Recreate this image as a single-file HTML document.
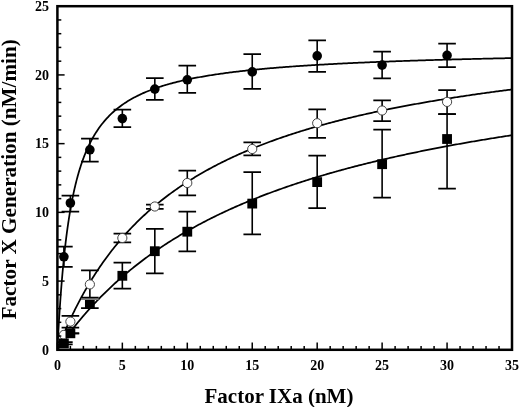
<!DOCTYPE html>
<html><head><meta charset="utf-8"><style>
html,body{margin:0;padding:0;background:#fff;}
svg{display:block;}
.t{font-family:"Liberation Serif",serif;font-weight:bold;font-size:14px;fill:#000;}
.a{font-family:"Liberation Serif",serif;font-weight:bold;font-size:21px;fill:#000;}
</style></head><body>
<svg style="will-change:transform" width="520" height="407" viewBox="0 0 520 407">
<rect width="520" height="407" fill="#fff"/>
<defs><clipPath id="c"><rect x="57.4" y="6.2" width="454.6" height="343.6"/></clipPath></defs><g clip-path="url(#c)"><path d="M57.40,349.80 L57.66,344.64 L57.92,339.66 L58.18,334.84 L58.44,330.17 L58.70,325.66 L58.96,321.29 L59.22,317.05 L59.48,312.95 L59.74,308.97 L60.00,305.10 L60.26,301.35 L60.52,297.71 L60.78,294.17 L61.04,290.73 L61.30,287.38 L61.56,284.13 L61.82,280.96 L62.08,277.88 L62.34,274.88 L62.60,271.95 L62.86,269.10 L63.12,266.33 L63.37,263.62 L63.63,260.97 L63.89,258.40 L64.15,255.88 L64.41,253.42 L64.67,251.02 L64.93,248.68 L65.19,246.39 L65.45,244.15 L65.71,241.96 L65.97,239.82 L66.23,237.73 L66.49,235.68 L66.75,233.68 L67.01,231.72 L67.27,229.80 L67.53,227.92 L67.79,226.08 L68.05,224.27 L68.31,222.50 L68.57,220.77 L68.83,219.07 L69.09,217.41 L69.35,215.77 L69.61,214.17 L69.87,212.60 L70.13,211.06 L70.39,209.54 L70.65,208.06 L70.91,206.60 L71.17,205.17 L71.43,203.76 L71.69,202.38 L71.95,201.03 L72.21,199.69 L72.47,198.38 L72.73,197.10 L72.99,195.83 L73.25,194.59 L73.51,193.36 L73.77,192.16 L74.03,190.98 L74.29,189.81 L74.55,188.67 L74.81,187.54 L75.07,186.43 L75.32,185.34 L75.58,184.27 L75.84,183.21 L76.10,182.17 L76.36,181.15 L76.62,180.14 L76.88,179.14 L77.14,178.16 L77.40,177.20 L77.66,176.25 L77.92,175.31 L78.18,174.39 L78.44,173.48 L78.70,172.58 L78.96,171.70 L79.22,170.83 L79.48,169.97 L79.74,169.12 L80.00,168.29 L80.26,167.46 L80.52,166.65 L80.78,165.85 L81.04,165.06 L81.30,164.28 L81.56,163.51 L81.82,162.75 L82.08,162.00 L82.34,161.26 L82.60,160.53 L82.86,159.81 L83.12,159.10 L83.38,158.40 L83.64,157.70 L83.90,157.02 L84.16,156.34 L84.42,155.67 L84.68,155.01 L84.94,154.36 L85.20,153.72 L85.46,153.08 L85.72,152.45 L85.98,151.83 L86.24,151.22 L86.50,150.61 L86.76,150.02 L87.01,149.42 L87.27,148.84 L87.53,148.26 L87.79,147.69 L88.05,147.12 L88.31,146.56 L88.57,146.01 L88.83,145.46 L89.09,144.92 L89.35,144.39 L89.61,143.86 L89.87,143.34 L90.13,142.82 L90.39,142.31 L90.65,141.80 L90.91,141.30 L91.17,140.81 L91.43,140.32 L91.69,139.83 L91.95,139.36 L92.21,138.88 L92.47,138.41 L92.73,137.95 L92.99,137.49 L93.25,137.03 L93.51,136.58 L93.77,136.13 L94.03,135.69 L94.29,135.26 L94.55,134.82 L94.81,134.39 L95.07,133.97 L95.33,133.55 L95.59,133.13 L95.85,132.72 L96.11,132.31 L96.37,131.91 L97.67,129.95 L98.96,128.08 L100.26,126.29 L101.56,124.58 L102.86,122.94 L104.16,121.37 L105.46,119.87 L106.76,118.43 L108.06,117.05 L109.36,115.71 L110.65,114.43 L111.95,113.20 L113.25,112.01 L114.55,110.87 L115.85,109.77 L117.15,108.70 L118.45,107.67 L119.75,106.68 L121.05,105.72 L122.34,104.79 L123.64,103.89 L124.94,103.01 L126.24,102.17 L127.54,101.35 L128.84,100.56 L130.14,99.78 L131.44,99.04 L132.74,98.31 L134.04,97.60 L135.33,96.92 L136.63,96.25 L137.93,95.60 L139.23,94.97 L140.53,94.35 L141.83,93.75 L143.13,93.17 L144.43,92.60 L145.73,92.05 L147.02,91.51 L148.32,90.98 L149.62,90.46 L150.92,89.96 L152.22,89.47 L153.52,88.99 L154.82,88.52 L156.12,88.07 L157.42,87.62 L158.71,87.18 L160.01,86.76 L161.31,86.34 L162.61,85.93 L163.91,85.53 L165.21,85.14 L166.51,84.75 L167.81,84.38 L169.11,84.01 L170.40,83.65 L171.70,83.30 L173.00,82.95 L174.30,82.61 L175.60,82.28 L176.90,81.95 L178.20,81.63 L179.50,81.32 L180.80,81.01 L182.09,80.71 L183.39,80.41 L184.69,80.12 L185.99,79.84 L187.29,79.56 L188.59,79.28 L189.89,79.01 L191.19,78.74 L192.49,78.48 L193.78,78.22 L195.08,77.97 L196.38,77.72 L197.68,77.48 L198.98,77.24 L200.28,77.00 L201.58,76.77 L202.88,76.54 L204.18,76.32 L205.47,76.09 L206.77,75.88 L208.07,75.66 L209.37,75.45 L210.67,75.24 L211.97,75.04 L213.27,74.84 L214.57,74.64 L215.87,74.44 L217.16,74.25 L218.46,74.06 L219.76,73.87 L221.06,73.69 L222.36,73.51 L223.66,73.33 L224.96,73.15 L226.26,72.98 L227.56,72.81 L228.85,72.64 L230.15,72.47 L231.45,72.30 L232.75,72.14 L234.05,71.98 L235.35,71.82 L236.65,71.67 L237.95,71.52 L239.25,71.36 L240.54,71.21 L241.84,71.07 L243.14,70.92 L244.44,70.78 L245.74,70.63 L247.04,70.49 L248.34,70.35 L249.64,70.22 L250.94,70.08 L252.23,69.95 L253.53,69.82 L254.83,69.69 L256.13,69.56 L257.43,69.43 L258.73,69.31 L260.03,69.18 L261.33,69.06 L262.63,68.94 L263.93,68.82 L265.22,68.70 L266.52,68.58 L267.82,68.47 L269.12,68.35 L270.42,68.24 L271.72,68.13 L273.02,68.02 L274.32,67.91 L275.62,67.80 L276.91,67.69 L278.21,67.59 L279.51,67.48 L280.81,67.38 L282.11,67.28 L283.41,67.18 L284.71,67.08 L286.01,66.98 L287.31,66.88 L288.60,66.78 L289.90,66.69 L291.20,66.59 L292.50,66.50 L293.80,66.41 L295.10,66.32 L296.40,66.22 L297.70,66.13 L299.00,66.05 L300.29,65.96 L301.59,65.87 L302.89,65.78 L304.19,65.70 L305.49,65.61 L306.79,65.53 L308.09,65.45 L309.39,65.36 L310.69,65.28 L311.98,65.20 L313.28,65.12 L314.58,65.04 L315.88,64.96 L317.18,64.89 L318.48,64.81 L319.78,64.73 L321.08,64.66 L322.38,64.58 L323.67,64.51 L324.97,64.43 L326.27,64.36 L327.57,64.29 L328.87,64.22 L330.17,64.15 L331.47,64.08 L332.77,64.01 L334.07,63.94 L335.36,63.87 L336.66,63.80 L337.96,63.74 L339.26,63.67 L340.56,63.60 L341.86,63.54 L343.16,63.47 L344.46,63.41 L345.76,63.34 L347.05,63.28 L348.35,63.22 L349.65,63.16 L350.95,63.10 L352.25,63.03 L353.55,62.97 L354.85,62.91 L356.15,62.85 L357.45,62.79 L358.74,62.74 L360.04,62.68 L361.34,62.62 L362.64,62.56 L363.94,62.51 L365.24,62.45 L366.54,62.39 L367.84,62.34 L369.14,62.28 L370.43,62.23 L371.73,62.18 L373.03,62.12 L374.33,62.07 L375.63,62.02 L376.93,61.96 L378.23,61.91 L379.53,61.86 L380.83,61.81 L382.13,61.76 L383.42,61.71 L384.72,61.66 L386.02,61.61 L387.32,61.56 L388.62,61.51 L389.92,61.46 L391.22,61.41 L392.52,61.37 L393.82,61.32 L395.11,61.27 L396.41,61.22 L397.71,61.18 L399.01,61.13 L400.31,61.09 L401.61,61.04 L402.91,61.00 L404.21,60.95 L405.51,60.91 L406.80,60.86 L408.10,60.82 L409.40,60.78 L410.70,60.73 L412.00,60.69 L413.30,60.65 L414.60,60.60 L415.90,60.56 L417.20,60.52 L418.49,60.48 L419.79,60.44 L421.09,60.40 L422.39,60.36 L423.69,60.32 L424.99,60.28 L426.29,60.24 L427.59,60.20 L428.89,60.16 L430.18,60.12 L431.48,60.08 L432.78,60.04 L434.08,60.00 L435.38,59.97 L436.68,59.93 L437.98,59.89 L439.28,59.85 L440.58,59.82 L441.87,59.78 L443.17,59.74 L444.47,59.71 L445.77,59.67 L447.07,59.64 L448.37,59.60 L449.67,59.56 L450.97,59.53 L452.27,59.49 L453.56,59.46 L454.86,59.43 L456.16,59.39 L457.46,59.36 L458.76,59.32 L460.06,59.29 L461.36,59.26 L462.66,59.22 L463.96,59.19 L465.25,59.16 L466.55,59.13 L467.85,59.09 L469.15,59.06 L470.45,59.03 L471.75,59.00 L473.05,58.97 L474.35,58.93 L475.65,58.90 L476.94,58.87 L478.24,58.84 L479.54,58.81 L480.84,58.78 L482.14,58.75 L483.44,58.72 L484.74,58.69 L486.04,58.66 L487.34,58.63 L488.63,58.60 L489.93,58.57 L491.23,58.54 L492.53,58.51 L493.83,58.48 L495.13,58.46 L496.43,58.43 L497.73,58.40 L499.03,58.37 L500.32,58.34 L501.62,58.32 L502.92,58.29 L504.22,58.26 L505.52,58.23 L506.82,58.21 L508.12,58.18 L509.42,58.15 L510.72,58.13 L512.01,58.10" fill="none" stroke="#000" stroke-width="1.75"/><path d="M57.40,349.80 L57.66,349.13 L57.92,348.46 L58.18,347.79 L58.44,347.12 L58.70,346.46 L58.96,345.80 L59.22,345.14 L59.48,344.49 L59.74,343.84 L60.00,343.19 L60.26,342.54 L60.52,341.90 L60.78,341.25 L61.04,340.61 L61.30,339.98 L61.56,339.34 L61.82,338.71 L62.08,338.08 L62.34,337.45 L62.60,336.83 L62.86,336.21 L63.12,335.59 L63.37,334.97 L63.63,334.36 L63.89,333.74 L64.15,333.13 L64.41,332.53 L64.67,331.92 L64.93,331.32 L65.19,330.72 L65.45,330.12 L65.71,329.52 L65.97,328.93 L66.23,328.33 L66.49,327.74 L66.75,327.16 L67.01,326.57 L67.27,325.99 L67.53,325.41 L67.79,324.83 L68.05,324.25 L68.31,323.68 L68.57,323.11 L68.83,322.54 L69.09,321.97 L69.35,321.40 L69.61,320.84 L69.87,320.28 L70.13,319.72 L70.39,319.16 L70.65,318.60 L70.91,318.05 L71.17,317.50 L71.43,316.95 L71.69,316.40 L71.95,315.86 L72.21,315.31 L72.47,314.77 L72.73,314.23 L72.99,313.69 L73.25,313.16 L73.51,312.62 L73.77,312.09 L74.03,311.56 L74.29,311.03 L74.55,310.51 L74.81,309.98 L75.07,309.46 L75.32,308.94 L75.58,308.42 L75.84,307.91 L76.10,307.39 L76.36,306.88 L76.62,306.37 L76.88,305.86 L77.14,305.35 L77.40,304.84 L77.66,304.34 L77.92,303.83 L78.18,303.33 L78.44,302.83 L78.70,302.34 L78.96,301.84 L79.22,301.35 L79.48,300.85 L79.74,300.36 L80.00,299.88 L80.26,299.39 L80.52,298.90 L80.78,298.42 L81.04,297.94 L81.30,297.46 L81.56,296.98 L81.82,296.50 L82.08,296.02 L82.34,295.55 L82.60,295.08 L82.86,294.61 L83.12,294.14 L83.38,293.67 L83.64,293.20 L83.90,292.74 L84.16,292.28 L84.42,291.81 L84.68,291.35 L84.94,290.90 L85.20,290.44 L85.46,289.98 L85.72,289.53 L85.98,289.08 L86.24,288.63 L86.50,288.18 L86.76,287.73 L87.01,287.28 L87.27,286.84 L87.53,286.39 L87.79,285.95 L88.05,285.51 L88.31,285.07 L88.57,284.63 L88.83,284.20 L89.09,283.76 L89.35,283.33 L89.61,282.90 L89.87,282.47 L90.13,282.04 L90.39,281.61 L90.65,281.18 L90.91,280.76 L91.17,280.33 L91.43,279.91 L91.69,279.49 L91.95,279.07 L92.21,278.65 L92.47,278.23 L92.73,277.82 L92.99,277.40 L93.25,276.99 L93.51,276.58 L93.77,276.17 L94.03,275.76 L94.29,275.35 L94.55,274.94 L94.81,274.54 L95.07,274.13 L95.33,273.73 L95.59,273.33 L95.85,272.93 L96.11,272.53 L96.37,272.13 L97.67,270.16 L98.96,268.22 L100.26,266.31 L101.56,264.42 L102.86,262.57 L104.16,260.74 L105.46,258.94 L106.76,257.16 L108.06,255.41 L109.36,253.69 L110.65,251.99 L111.95,250.32 L113.25,248.67 L114.55,247.04 L115.85,245.43 L117.15,243.85 L118.45,242.29 L119.75,240.75 L121.05,239.23 L122.34,237.73 L123.64,236.25 L124.94,234.79 L126.24,233.35 L127.54,231.92 L128.84,230.52 L130.14,229.14 L131.44,227.77 L132.74,226.42 L134.04,225.09 L135.33,223.77 L136.63,222.47 L137.93,221.19 L139.23,219.92 L140.53,218.67 L141.83,217.43 L143.13,216.21 L144.43,215.00 L145.73,213.81 L147.02,212.63 L148.32,211.47 L149.62,210.31 L150.92,209.18 L152.22,208.05 L153.52,206.94 L154.82,205.84 L156.12,204.76 L157.42,203.68 L158.71,202.62 L160.01,201.57 L161.31,200.54 L162.61,199.51 L163.91,198.49 L165.21,197.49 L166.51,196.50 L167.81,195.52 L169.11,194.54 L170.40,193.58 L171.70,192.63 L173.00,191.69 L174.30,190.76 L175.60,189.84 L176.90,188.93 L178.20,188.03 L179.50,187.14 L180.80,186.25 L182.09,185.38 L183.39,184.51 L184.69,183.66 L185.99,182.81 L187.29,181.97 L188.59,181.14 L189.89,180.32 L191.19,179.50 L192.49,178.70 L193.78,177.90 L195.08,177.11 L196.38,176.33 L197.68,175.55 L198.98,174.78 L200.28,174.02 L201.58,173.27 L202.88,172.52 L204.18,171.78 L205.47,171.05 L206.77,170.33 L208.07,169.61 L209.37,168.89 L210.67,168.19 L211.97,167.49 L213.27,166.80 L214.57,166.11 L215.87,165.43 L217.16,164.76 L218.46,164.09 L219.76,163.43 L221.06,162.77 L222.36,162.12 L223.66,161.48 L224.96,160.84 L226.26,160.20 L227.56,159.58 L228.85,158.95 L230.15,158.34 L231.45,157.73 L232.75,157.12 L234.05,156.52 L235.35,155.92 L236.65,155.33 L237.95,154.74 L239.25,154.16 L240.54,153.59 L241.84,153.02 L243.14,152.45 L244.44,151.89 L245.74,151.33 L247.04,150.78 L248.34,150.23 L249.64,149.68 L250.94,149.14 L252.23,148.61 L253.53,148.08 L254.83,147.55 L256.13,147.03 L257.43,146.51 L258.73,145.99 L260.03,145.48 L261.33,144.98 L262.63,144.47 L263.93,143.98 L265.22,143.48 L266.52,142.99 L267.82,142.50 L269.12,142.02 L270.42,141.54 L271.72,141.06 L273.02,140.59 L274.32,140.12 L275.62,139.66 L276.91,139.19 L278.21,138.74 L279.51,138.28 L280.81,137.83 L282.11,137.38 L283.41,136.93 L284.71,136.49 L286.01,136.05 L287.31,135.62 L288.60,135.19 L289.90,134.76 L291.20,134.33 L292.50,133.91 L293.80,133.49 L295.10,133.07 L296.40,132.65 L297.70,132.24 L299.00,131.83 L300.29,131.43 L301.59,131.03 L302.89,130.63 L304.19,130.23 L305.49,129.83 L306.79,129.44 L308.09,129.05 L309.39,128.67 L310.69,128.28 L311.98,127.90 L313.28,127.52 L314.58,127.15 L315.88,126.77 L317.18,126.40 L318.48,126.03 L319.78,125.67 L321.08,125.30 L322.38,124.94 L323.67,124.58 L324.97,124.23 L326.27,123.87 L327.57,123.52 L328.87,123.17 L330.17,122.82 L331.47,122.48 L332.77,122.14 L334.07,121.79 L335.36,121.46 L336.66,121.12 L337.96,120.79 L339.26,120.45 L340.56,120.12 L341.86,119.80 L343.16,119.47 L344.46,119.15 L345.76,118.82 L347.05,118.50 L348.35,118.19 L349.65,117.87 L350.95,117.56 L352.25,117.24 L353.55,116.93 L354.85,116.63 L356.15,116.32 L357.45,116.01 L358.74,115.71 L360.04,115.41 L361.34,115.11 L362.64,114.81 L363.94,114.52 L365.24,114.23 L366.54,113.93 L367.84,113.64 L369.14,113.35 L370.43,113.07 L371.73,112.78 L373.03,112.50 L374.33,112.22 L375.63,111.94 L376.93,111.66 L378.23,111.38 L379.53,111.11 L380.83,110.83 L382.13,110.56 L383.42,110.29 L384.72,110.02 L386.02,109.75 L387.32,109.49 L388.62,109.22 L389.92,108.96 L391.22,108.70 L392.52,108.44 L393.82,108.18 L395.11,107.92 L396.41,107.67 L397.71,107.41 L399.01,107.16 L400.31,106.91 L401.61,106.66 L402.91,106.41 L404.21,106.16 L405.51,105.91 L406.80,105.67 L408.10,105.42 L409.40,105.18 L410.70,104.94 L412.00,104.70 L413.30,104.46 L414.60,104.23 L415.90,103.99 L417.20,103.76 L418.49,103.52 L419.79,103.29 L421.09,103.06 L422.39,102.83 L423.69,102.60 L424.99,102.38 L426.29,102.15 L427.59,101.92 L428.89,101.70 L430.18,101.48 L431.48,101.26 L432.78,101.04 L434.08,100.82 L435.38,100.60 L436.68,100.38 L437.98,100.17 L439.28,99.95 L440.58,99.74 L441.87,99.53 L443.17,99.32 L444.47,99.11 L445.77,98.90 L447.07,98.69 L448.37,98.48 L449.67,98.27 L450.97,98.07 L452.27,97.87 L453.56,97.66 L454.86,97.46 L456.16,97.26 L457.46,97.06 L458.76,96.86 L460.06,96.66 L461.36,96.46 L462.66,96.27 L463.96,96.07 L465.25,95.88 L466.55,95.69 L467.85,95.49 L469.15,95.30 L470.45,95.11 L471.75,94.92 L473.05,94.73 L474.35,94.54 L475.65,94.36 L476.94,94.17 L478.24,93.99 L479.54,93.80 L480.84,93.62 L482.14,93.44 L483.44,93.25 L484.74,93.07 L486.04,92.89 L487.34,92.71 L488.63,92.54 L489.93,92.36 L491.23,92.18 L492.53,92.00 L493.83,91.83 L495.13,91.66 L496.43,91.48 L497.73,91.31 L499.03,91.14 L500.32,90.97 L501.62,90.80 L502.92,90.63 L504.22,90.46 L505.52,90.29 L506.82,90.12 L508.12,89.96 L509.42,89.79 L510.72,89.62 L512.01,89.46" fill="none" stroke="#000" stroke-width="1.75"/><path d="M57.40,349.80 L57.66,349.42 L57.92,349.04 L58.18,348.66 L58.44,348.29 L58.70,347.91 L58.96,347.54 L59.22,347.16 L59.48,346.79 L59.74,346.42 L60.00,346.05 L60.26,345.68 L60.52,345.31 L60.78,344.94 L61.04,344.57 L61.30,344.20 L61.56,343.84 L61.82,343.47 L62.08,343.11 L62.34,342.74 L62.60,342.38 L62.86,342.02 L63.12,341.66 L63.37,341.30 L63.63,340.94 L63.89,340.58 L64.15,340.22 L64.41,339.87 L64.67,339.51 L64.93,339.16 L65.19,338.80 L65.45,338.45 L65.71,338.10 L65.97,337.74 L66.23,337.39 L66.49,337.04 L66.75,336.69 L67.01,336.34 L67.27,336.00 L67.53,335.65 L67.79,335.30 L68.05,334.96 L68.31,334.61 L68.57,334.27 L68.83,333.93 L69.09,333.58 L69.35,333.24 L69.61,332.90 L69.87,332.56 L70.13,332.22 L70.39,331.88 L70.65,331.55 L70.91,331.21 L71.17,330.87 L71.43,330.54 L71.69,330.20 L71.95,329.87 L72.21,329.54 L72.47,329.20 L72.73,328.87 L72.99,328.54 L73.25,328.21 L73.51,327.88 L73.77,327.55 L74.03,327.22 L74.29,326.90 L74.55,326.57 L74.81,326.25 L75.07,325.92 L75.32,325.60 L75.58,325.27 L75.84,324.95 L76.10,324.63 L76.36,324.31 L76.62,323.98 L76.88,323.66 L77.14,323.35 L77.40,323.03 L77.66,322.71 L77.92,322.39 L78.18,322.07 L78.44,321.76 L78.70,321.44 L78.96,321.13 L79.22,320.82 L79.48,320.50 L79.74,320.19 L80.00,319.88 L80.26,319.57 L80.52,319.26 L80.78,318.95 L81.04,318.64 L81.30,318.33 L81.56,318.02 L81.82,317.71 L82.08,317.41 L82.34,317.10 L82.60,316.80 L82.86,316.49 L83.12,316.19 L83.38,315.88 L83.64,315.58 L83.90,315.28 L84.16,314.98 L84.42,314.68 L84.68,314.38 L84.94,314.08 L85.20,313.78 L85.46,313.48 L85.72,313.19 L85.98,312.89 L86.24,312.59 L86.50,312.30 L86.76,312.00 L87.01,311.71 L87.27,311.41 L87.53,311.12 L87.79,310.83 L88.05,310.54 L88.31,310.25 L88.57,309.95 L88.83,309.66 L89.09,309.38 L89.35,309.09 L89.61,308.80 L89.87,308.51 L90.13,308.22 L90.39,307.94 L90.65,307.65 L90.91,307.37 L91.17,307.08 L91.43,306.80 L91.69,306.51 L91.95,306.23 L92.21,305.95 L92.47,305.67 L92.73,305.39 L92.99,305.11 L93.25,304.83 L93.51,304.55 L93.77,304.27 L94.03,303.99 L94.29,303.71 L94.55,303.43 L94.81,303.16 L95.07,302.88 L95.33,302.61 L95.59,302.33 L95.85,302.06 L96.11,301.78 L96.37,301.51 L97.67,300.15 L98.96,298.81 L100.26,297.48 L101.56,296.16 L102.86,294.86 L104.16,293.57 L105.46,292.29 L106.76,291.02 L108.06,289.77 L109.36,288.53 L110.65,287.30 L111.95,286.08 L113.25,284.87 L114.55,283.68 L115.85,282.49 L117.15,281.32 L118.45,280.16 L119.75,279.01 L121.05,277.87 L122.34,276.74 L123.64,275.62 L124.94,274.51 L126.24,273.41 L127.54,272.32 L128.84,271.24 L130.14,270.17 L131.44,269.11 L132.74,268.06 L134.04,267.02 L135.33,265.99 L136.63,264.97 L137.93,263.95 L139.23,262.95 L140.53,261.95 L141.83,260.96 L143.13,259.99 L144.43,259.01 L145.73,258.05 L147.02,257.10 L148.32,256.15 L149.62,255.21 L150.92,254.28 L152.22,253.36 L153.52,252.44 L154.82,251.54 L156.12,250.63 L157.42,249.74 L158.71,248.86 L160.01,247.98 L161.31,247.11 L162.61,246.24 L163.91,245.39 L165.21,244.53 L166.51,243.69 L167.81,242.85 L169.11,242.02 L170.40,241.20 L171.70,240.38 L173.00,239.57 L174.30,238.77 L175.60,237.97 L176.90,237.18 L178.20,236.39 L179.50,235.61 L180.80,234.84 L182.09,234.07 L183.39,233.31 L184.69,232.55 L185.99,231.80 L187.29,231.05 L188.59,230.31 L189.89,229.58 L191.19,228.85 L192.49,228.13 L193.78,227.41 L195.08,226.70 L196.38,225.99 L197.68,225.29 L198.98,224.59 L200.28,223.90 L201.58,223.21 L202.88,222.53 L204.18,221.85 L205.47,221.17 L206.77,220.51 L208.07,219.84 L209.37,219.19 L210.67,218.53 L211.97,217.88 L213.27,217.24 L214.57,216.60 L215.87,215.96 L217.16,215.33 L218.46,214.70 L219.76,214.08 L221.06,213.46 L222.36,212.85 L223.66,212.24 L224.96,211.63 L226.26,211.03 L227.56,210.43 L228.85,209.83 L230.15,209.24 L231.45,208.66 L232.75,208.08 L234.05,207.50 L235.35,206.92 L236.65,206.35 L237.95,205.78 L239.25,205.22 L240.54,204.66 L241.84,204.11 L243.14,203.55 L244.44,203.00 L245.74,202.46 L247.04,201.92 L248.34,201.38 L249.64,200.84 L250.94,200.31 L252.23,199.78 L253.53,199.26 L254.83,198.74 L256.13,198.22 L257.43,197.70 L258.73,197.19 L260.03,196.68 L261.33,196.18 L262.63,195.67 L263.93,195.17 L265.22,194.68 L266.52,194.18 L267.82,193.69 L269.12,193.21 L270.42,192.72 L271.72,192.24 L273.02,191.76 L274.32,191.28 L275.62,190.81 L276.91,190.34 L278.21,189.87 L279.51,189.41 L280.81,188.95 L282.11,188.49 L283.41,188.03 L284.71,187.58 L286.01,187.13 L287.31,186.68 L288.60,186.23 L289.90,185.79 L291.20,185.35 L292.50,184.91 L293.80,184.47 L295.10,184.04 L296.40,183.61 L297.70,183.18 L299.00,182.75 L300.29,182.33 L301.59,181.91 L302.89,181.49 L304.19,181.07 L305.49,180.66 L306.79,180.25 L308.09,179.84 L309.39,179.43 L310.69,179.03 L311.98,178.62 L313.28,178.22 L314.58,177.83 L315.88,177.43 L317.18,177.04 L318.48,176.64 L319.78,176.25 L321.08,175.87 L322.38,175.48 L323.67,175.10 L324.97,174.72 L326.27,174.34 L327.57,173.96 L328.87,173.58 L330.17,173.21 L331.47,172.84 L332.77,172.47 L334.07,172.10 L335.36,171.74 L336.66,171.37 L337.96,171.01 L339.26,170.65 L340.56,170.29 L341.86,169.94 L343.16,169.58 L344.46,169.23 L345.76,168.88 L347.05,168.53 L348.35,168.18 L349.65,167.84 L350.95,167.49 L352.25,167.15 L353.55,166.81 L354.85,166.47 L356.15,166.14 L357.45,165.80 L358.74,165.47 L360.04,165.14 L361.34,164.81 L362.64,164.48 L363.94,164.15 L365.24,163.83 L366.54,163.50 L367.84,163.18 L369.14,162.86 L370.43,162.54 L371.73,162.23 L373.03,161.91 L374.33,161.60 L375.63,161.28 L376.93,160.97 L378.23,160.66 L379.53,160.36 L380.83,160.05 L382.13,159.74 L383.42,159.44 L384.72,159.14 L386.02,158.84 L387.32,158.54 L388.62,158.24 L389.92,157.94 L391.22,157.65 L392.52,157.36 L393.82,157.06 L395.11,156.77 L396.41,156.48 L397.71,156.19 L399.01,155.91 L400.31,155.62 L401.61,155.34 L402.91,155.05 L404.21,154.77 L405.51,154.49 L406.80,154.21 L408.10,153.94 L409.40,153.66 L410.70,153.38 L412.00,153.11 L413.30,152.84 L414.60,152.57 L415.90,152.30 L417.20,152.03 L418.49,151.76 L419.79,151.49 L421.09,151.23 L422.39,150.96 L423.69,150.70 L424.99,150.44 L426.29,150.18 L427.59,149.92 L428.89,149.66 L430.18,149.40 L431.48,149.15 L432.78,148.89 L434.08,148.64 L435.38,148.38 L436.68,148.13 L437.98,147.88 L439.28,147.63 L440.58,147.38 L441.87,147.14 L443.17,146.89 L444.47,146.64 L445.77,146.40 L447.07,146.16 L448.37,145.91 L449.67,145.67 L450.97,145.43 L452.27,145.19 L453.56,144.96 L454.86,144.72 L456.16,144.48 L457.46,144.25 L458.76,144.01 L460.06,143.78 L461.36,143.55 L462.66,143.32 L463.96,143.09 L465.25,142.86 L466.55,142.63 L467.85,142.40 L469.15,142.18 L470.45,141.95 L471.75,141.73 L473.05,141.50 L474.35,141.28 L475.65,141.06 L476.94,140.84 L478.24,140.62 L479.54,140.40 L480.84,140.18 L482.14,139.96 L483.44,139.75 L484.74,139.53 L486.04,139.32 L487.34,139.10 L488.63,138.89 L489.93,138.68 L491.23,138.47 L492.53,138.26 L493.83,138.05 L495.13,137.84 L496.43,137.63 L497.73,137.42 L499.03,137.22 L500.32,137.01 L501.62,136.81 L502.92,136.60 L504.22,136.40 L505.52,136.20 L506.82,136.00 L508.12,135.80 L509.42,135.60 L510.72,135.40 L512.01,135.20" fill="none" stroke="#000" stroke-width="1.75"/></g><g clip-path="url(#c)"><line x1="63.89" y1="342.20" x2="63.89" y2="344.30" stroke="#000" stroke-width="1.6"/><line x1="55.09" y1="342.20" x2="72.69" y2="342.20" stroke="#000" stroke-width="1.75"/><line x1="55.09" y1="344.30" x2="72.69" y2="344.30" stroke="#000" stroke-width="1.75"/><line x1="70.39" y1="333.30" x2="70.39" y2="333.30" stroke="#000" stroke-width="1.6"/><line x1="61.59" y1="333.30" x2="79.19" y2="333.30" stroke="#000" stroke-width="1.75"/><line x1="61.59" y1="333.30" x2="79.19" y2="333.30" stroke="#000" stroke-width="1.75"/><line x1="89.87" y1="299.10" x2="89.87" y2="308.20" stroke="#000" stroke-width="1.6"/><line x1="81.07" y1="299.10" x2="98.67" y2="299.10" stroke="#000" stroke-width="1.75"/><line x1="81.07" y1="308.20" x2="98.67" y2="308.20" stroke="#000" stroke-width="1.75"/><line x1="122.34" y1="262.60" x2="122.34" y2="288.60" stroke="#000" stroke-width="1.6"/><line x1="113.55" y1="262.60" x2="131.15" y2="262.60" stroke="#000" stroke-width="1.75"/><line x1="113.55" y1="288.60" x2="131.15" y2="288.60" stroke="#000" stroke-width="1.75"/><line x1="154.82" y1="228.90" x2="154.82" y2="273.30" stroke="#000" stroke-width="1.6"/><line x1="146.02" y1="228.90" x2="163.62" y2="228.90" stroke="#000" stroke-width="1.75"/><line x1="146.02" y1="273.30" x2="163.62" y2="273.30" stroke="#000" stroke-width="1.75"/><line x1="187.29" y1="211.50" x2="187.29" y2="251.30" stroke="#000" stroke-width="1.6"/><line x1="178.49" y1="211.50" x2="196.09" y2="211.50" stroke="#000" stroke-width="1.75"/><line x1="178.49" y1="251.30" x2="196.09" y2="251.30" stroke="#000" stroke-width="1.75"/><line x1="252.24" y1="172.10" x2="252.24" y2="234.40" stroke="#000" stroke-width="1.6"/><line x1="243.44" y1="172.10" x2="261.04" y2="172.10" stroke="#000" stroke-width="1.75"/><line x1="243.44" y1="234.40" x2="261.04" y2="234.40" stroke="#000" stroke-width="1.75"/><line x1="317.18" y1="155.60" x2="317.18" y2="208.10" stroke="#000" stroke-width="1.6"/><line x1="308.38" y1="155.60" x2="325.98" y2="155.60" stroke="#000" stroke-width="1.75"/><line x1="308.38" y1="208.10" x2="325.98" y2="208.10" stroke="#000" stroke-width="1.75"/><line x1="382.12" y1="129.50" x2="382.12" y2="197.70" stroke="#000" stroke-width="1.6"/><line x1="373.32" y1="129.50" x2="390.93" y2="129.50" stroke="#000" stroke-width="1.75"/><line x1="373.32" y1="197.70" x2="390.93" y2="197.70" stroke="#000" stroke-width="1.75"/><line x1="447.07" y1="114.20" x2="447.07" y2="188.50" stroke="#000" stroke-width="1.6"/><line x1="438.27" y1="114.20" x2="455.87" y2="114.20" stroke="#000" stroke-width="1.75"/><line x1="438.27" y1="188.50" x2="455.87" y2="188.50" stroke="#000" stroke-width="1.75"/><line x1="70.39" y1="315.80" x2="70.39" y2="327.70" stroke="#000" stroke-width="1.6"/><line x1="61.59" y1="315.80" x2="79.19" y2="315.80" stroke="#000" stroke-width="1.75"/><line x1="61.59" y1="327.70" x2="79.19" y2="327.70" stroke="#000" stroke-width="1.75"/><line x1="89.87" y1="270.40" x2="89.87" y2="297.60" stroke="#000" stroke-width="1.6"/><line x1="81.07" y1="270.40" x2="98.67" y2="270.40" stroke="#000" stroke-width="1.75"/><line x1="81.07" y1="297.60" x2="98.67" y2="297.60" stroke="#000" stroke-width="1.75"/><line x1="122.34" y1="233.60" x2="122.34" y2="242.40" stroke="#000" stroke-width="1.6"/><line x1="113.55" y1="233.60" x2="131.15" y2="233.60" stroke="#000" stroke-width="1.75"/><line x1="113.55" y1="242.40" x2="131.15" y2="242.40" stroke="#000" stroke-width="1.75"/><line x1="154.82" y1="204.50" x2="154.82" y2="208.80" stroke="#000" stroke-width="1.6"/><line x1="146.02" y1="204.50" x2="163.62" y2="204.50" stroke="#000" stroke-width="1.75"/><line x1="146.02" y1="208.80" x2="163.62" y2="208.80" stroke="#000" stroke-width="1.75"/><line x1="187.29" y1="170.70" x2="187.29" y2="195.30" stroke="#000" stroke-width="1.6"/><line x1="178.49" y1="170.70" x2="196.09" y2="170.70" stroke="#000" stroke-width="1.75"/><line x1="178.49" y1="195.30" x2="196.09" y2="195.30" stroke="#000" stroke-width="1.75"/><line x1="252.24" y1="142.40" x2="252.24" y2="155.30" stroke="#000" stroke-width="1.6"/><line x1="243.44" y1="142.40" x2="261.04" y2="142.40" stroke="#000" stroke-width="1.75"/><line x1="243.44" y1="155.30" x2="261.04" y2="155.30" stroke="#000" stroke-width="1.75"/><line x1="317.18" y1="109.30" x2="317.18" y2="137.90" stroke="#000" stroke-width="1.6"/><line x1="308.38" y1="109.30" x2="325.98" y2="109.30" stroke="#000" stroke-width="1.75"/><line x1="308.38" y1="137.90" x2="325.98" y2="137.90" stroke="#000" stroke-width="1.75"/><line x1="382.12" y1="100.40" x2="382.12" y2="121.10" stroke="#000" stroke-width="1.6"/><line x1="373.32" y1="100.40" x2="390.93" y2="100.40" stroke="#000" stroke-width="1.75"/><line x1="373.32" y1="121.10" x2="390.93" y2="121.10" stroke="#000" stroke-width="1.75"/><line x1="447.07" y1="90.10" x2="447.07" y2="114.20" stroke="#000" stroke-width="1.6"/><line x1="438.27" y1="90.10" x2="455.87" y2="90.10" stroke="#000" stroke-width="1.75"/><line x1="438.27" y1="114.20" x2="455.87" y2="114.20" stroke="#000" stroke-width="1.75"/><line x1="63.89" y1="246.50" x2="63.89" y2="266.90" stroke="#000" stroke-width="1.6"/><line x1="55.09" y1="246.50" x2="72.69" y2="246.50" stroke="#000" stroke-width="1.75"/><line x1="55.09" y1="266.90" x2="72.69" y2="266.90" stroke="#000" stroke-width="1.75"/><line x1="70.39" y1="195.50" x2="70.39" y2="211.50" stroke="#000" stroke-width="1.6"/><line x1="61.59" y1="195.50" x2="79.19" y2="195.50" stroke="#000" stroke-width="1.75"/><line x1="61.59" y1="211.50" x2="79.19" y2="211.50" stroke="#000" stroke-width="1.75"/><line x1="89.87" y1="138.70" x2="89.87" y2="161.60" stroke="#000" stroke-width="1.6"/><line x1="81.07" y1="138.70" x2="98.67" y2="138.70" stroke="#000" stroke-width="1.75"/><line x1="81.07" y1="161.60" x2="98.67" y2="161.60" stroke="#000" stroke-width="1.75"/><line x1="122.34" y1="109.60" x2="122.34" y2="127.00" stroke="#000" stroke-width="1.6"/><line x1="113.55" y1="109.60" x2="131.15" y2="109.60" stroke="#000" stroke-width="1.75"/><line x1="113.55" y1="127.00" x2="131.15" y2="127.00" stroke="#000" stroke-width="1.75"/><line x1="154.82" y1="78.00" x2="154.82" y2="99.90" stroke="#000" stroke-width="1.6"/><line x1="146.02" y1="78.00" x2="163.62" y2="78.00" stroke="#000" stroke-width="1.75"/><line x1="146.02" y1="99.90" x2="163.62" y2="99.90" stroke="#000" stroke-width="1.75"/><line x1="187.29" y1="65.50" x2="187.29" y2="92.80" stroke="#000" stroke-width="1.6"/><line x1="178.49" y1="65.50" x2="196.09" y2="65.50" stroke="#000" stroke-width="1.75"/><line x1="178.49" y1="92.80" x2="196.09" y2="92.80" stroke="#000" stroke-width="1.75"/><line x1="252.24" y1="54.10" x2="252.24" y2="88.80" stroke="#000" stroke-width="1.6"/><line x1="243.44" y1="54.10" x2="261.04" y2="54.10" stroke="#000" stroke-width="1.75"/><line x1="243.44" y1="88.80" x2="261.04" y2="88.80" stroke="#000" stroke-width="1.75"/><line x1="317.18" y1="40.40" x2="317.18" y2="71.90" stroke="#000" stroke-width="1.6"/><line x1="308.38" y1="40.40" x2="325.98" y2="40.40" stroke="#000" stroke-width="1.75"/><line x1="308.38" y1="71.90" x2="325.98" y2="71.90" stroke="#000" stroke-width="1.75"/><line x1="382.12" y1="51.70" x2="382.12" y2="78.30" stroke="#000" stroke-width="1.6"/><line x1="373.32" y1="51.70" x2="390.93" y2="51.70" stroke="#000" stroke-width="1.75"/><line x1="373.32" y1="78.30" x2="390.93" y2="78.30" stroke="#000" stroke-width="1.75"/><line x1="447.07" y1="43.70" x2="447.07" y2="67.10" stroke="#000" stroke-width="1.6"/><line x1="438.27" y1="43.70" x2="455.87" y2="43.70" stroke="#000" stroke-width="1.75"/><line x1="438.27" y1="67.10" x2="455.87" y2="67.10" stroke="#000" stroke-width="1.75"/><circle cx="63.89" cy="334.90" r="4.6" fill="#fff" stroke="#444" stroke-width="1"/><circle cx="70.39" cy="321.60" r="4.6" fill="#fff" stroke="#444" stroke-width="1"/><circle cx="89.87" cy="284.40" r="4.6" fill="#fff" stroke="#444" stroke-width="1"/><circle cx="122.34" cy="238.00" r="4.6" fill="#fff" stroke="#444" stroke-width="1"/><circle cx="154.82" cy="206.50" r="4.6" fill="#fff" stroke="#444" stroke-width="1"/><circle cx="187.29" cy="183.00" r="4.6" fill="#fff" stroke="#444" stroke-width="1"/><circle cx="252.24" cy="149.00" r="4.6" fill="#fff" stroke="#444" stroke-width="1"/><circle cx="317.18" cy="123.20" r="4.6" fill="#fff" stroke="#444" stroke-width="1"/><circle cx="382.12" cy="110.50" r="4.6" fill="#fff" stroke="#444" stroke-width="1"/><circle cx="447.07" cy="101.90" r="4.6" fill="#fff" stroke="#444" stroke-width="1"/><rect x="58.99" y="338.50" width="9.8" height="9.8" fill="#000"/><rect x="65.49" y="328.40" width="9.8" height="9.8" fill="#000"/><rect x="84.97" y="298.40" width="9.8" height="9.8" fill="#000"/><rect x="117.44" y="270.90" width="9.8" height="9.8" fill="#000"/><rect x="149.92" y="246.30" width="9.8" height="9.8" fill="#000"/><rect x="182.39" y="226.80" width="9.8" height="9.8" fill="#000"/><rect x="247.34" y="198.70" width="9.8" height="9.8" fill="#000"/><rect x="312.28" y="177.20" width="9.8" height="9.8" fill="#000"/><rect x="377.23" y="159.30" width="9.8" height="9.8" fill="#000"/><rect x="442.17" y="134.10" width="9.8" height="9.8" fill="#000"/><circle cx="63.89" cy="256.80" r="4.8" fill="#000"/><circle cx="70.39" cy="203.00" r="4.8" fill="#000"/><circle cx="89.87" cy="149.80" r="4.8" fill="#000"/><circle cx="122.34" cy="118.60" r="4.8" fill="#000"/><circle cx="154.82" cy="89.10" r="4.8" fill="#000"/><circle cx="187.29" cy="79.80" r="4.8" fill="#000"/><circle cx="252.24" cy="71.90" r="4.8" fill="#000"/><circle cx="317.18" cy="55.90" r="4.8" fill="#000"/><circle cx="382.12" cy="65.10" r="4.8" fill="#000"/><circle cx="447.07" cy="55.40" r="4.8" fill="#000"/><line x1="81.07" y1="299.2" x2="98.67" y2="299.2" stroke="#aaa" stroke-width="1.3"/></g><rect x="57.4" y="6.2" width="454.6" height="343.6" fill="none" stroke="#000" stroke-width="2.5"/><line x1="57.40" y1="349.80" x2="57.40" y2="342.60" stroke="#000" stroke-width="1.5"/><line x1="70.39" y1="349.80" x2="70.39" y2="345.90" stroke="#000" stroke-width="1.5"/><line x1="83.38" y1="349.80" x2="83.38" y2="345.90" stroke="#000" stroke-width="1.5"/><line x1="96.37" y1="349.80" x2="96.37" y2="345.90" stroke="#000" stroke-width="1.5"/><line x1="109.36" y1="349.80" x2="109.36" y2="345.90" stroke="#000" stroke-width="1.5"/><line x1="122.34" y1="349.80" x2="122.34" y2="342.60" stroke="#000" stroke-width="1.5"/><line x1="135.33" y1="349.80" x2="135.33" y2="345.90" stroke="#000" stroke-width="1.5"/><line x1="148.32" y1="349.80" x2="148.32" y2="345.90" stroke="#000" stroke-width="1.5"/><line x1="161.31" y1="349.80" x2="161.31" y2="345.90" stroke="#000" stroke-width="1.5"/><line x1="174.30" y1="349.80" x2="174.30" y2="345.90" stroke="#000" stroke-width="1.5"/><line x1="187.29" y1="349.80" x2="187.29" y2="342.60" stroke="#000" stroke-width="1.5"/><line x1="200.28" y1="349.80" x2="200.28" y2="345.90" stroke="#000" stroke-width="1.5"/><line x1="213.27" y1="349.80" x2="213.27" y2="345.90" stroke="#000" stroke-width="1.5"/><line x1="226.26" y1="349.80" x2="226.26" y2="345.90" stroke="#000" stroke-width="1.5"/><line x1="239.25" y1="349.80" x2="239.25" y2="345.90" stroke="#000" stroke-width="1.5"/><line x1="252.24" y1="349.80" x2="252.24" y2="342.60" stroke="#000" stroke-width="1.5"/><line x1="265.22" y1="349.80" x2="265.22" y2="345.90" stroke="#000" stroke-width="1.5"/><line x1="278.21" y1="349.80" x2="278.21" y2="345.90" stroke="#000" stroke-width="1.5"/><line x1="291.20" y1="349.80" x2="291.20" y2="345.90" stroke="#000" stroke-width="1.5"/><line x1="304.19" y1="349.80" x2="304.19" y2="345.90" stroke="#000" stroke-width="1.5"/><line x1="317.18" y1="349.80" x2="317.18" y2="342.60" stroke="#000" stroke-width="1.5"/><line x1="330.17" y1="349.80" x2="330.17" y2="345.90" stroke="#000" stroke-width="1.5"/><line x1="343.16" y1="349.80" x2="343.16" y2="345.90" stroke="#000" stroke-width="1.5"/><line x1="356.15" y1="349.80" x2="356.15" y2="345.90" stroke="#000" stroke-width="1.5"/><line x1="369.14" y1="349.80" x2="369.14" y2="345.90" stroke="#000" stroke-width="1.5"/><line x1="382.12" y1="349.80" x2="382.12" y2="342.60" stroke="#000" stroke-width="1.5"/><line x1="395.11" y1="349.80" x2="395.11" y2="345.90" stroke="#000" stroke-width="1.5"/><line x1="408.10" y1="349.80" x2="408.10" y2="345.90" stroke="#000" stroke-width="1.5"/><line x1="421.09" y1="349.80" x2="421.09" y2="345.90" stroke="#000" stroke-width="1.5"/><line x1="434.08" y1="349.80" x2="434.08" y2="345.90" stroke="#000" stroke-width="1.5"/><line x1="447.07" y1="349.80" x2="447.07" y2="342.60" stroke="#000" stroke-width="1.5"/><line x1="460.06" y1="349.80" x2="460.06" y2="345.90" stroke="#000" stroke-width="1.5"/><line x1="473.05" y1="349.80" x2="473.05" y2="345.90" stroke="#000" stroke-width="1.5"/><line x1="486.04" y1="349.80" x2="486.04" y2="345.90" stroke="#000" stroke-width="1.5"/><line x1="499.03" y1="349.80" x2="499.03" y2="345.90" stroke="#000" stroke-width="1.5"/><line x1="512.01" y1="349.80" x2="512.01" y2="342.60" stroke="#000" stroke-width="1.5"/><line x1="57.40" y1="349.80" x2="64.60" y2="349.80" stroke="#000" stroke-width="1.5"/><line x1="57.40" y1="336.06" x2="61.30" y2="336.06" stroke="#000" stroke-width="1.5"/><line x1="57.40" y1="322.31" x2="61.30" y2="322.31" stroke="#000" stroke-width="1.5"/><line x1="57.40" y1="308.57" x2="61.30" y2="308.57" stroke="#000" stroke-width="1.5"/><line x1="57.40" y1="294.82" x2="61.30" y2="294.82" stroke="#000" stroke-width="1.5"/><line x1="57.40" y1="281.08" x2="64.60" y2="281.08" stroke="#000" stroke-width="1.5"/><line x1="57.40" y1="267.34" x2="61.30" y2="267.34" stroke="#000" stroke-width="1.5"/><line x1="57.40" y1="253.59" x2="61.30" y2="253.59" stroke="#000" stroke-width="1.5"/><line x1="57.40" y1="239.85" x2="61.30" y2="239.85" stroke="#000" stroke-width="1.5"/><line x1="57.40" y1="226.10" x2="61.30" y2="226.10" stroke="#000" stroke-width="1.5"/><line x1="57.40" y1="212.36" x2="64.60" y2="212.36" stroke="#000" stroke-width="1.5"/><line x1="57.40" y1="198.62" x2="61.30" y2="198.62" stroke="#000" stroke-width="1.5"/><line x1="57.40" y1="184.87" x2="61.30" y2="184.87" stroke="#000" stroke-width="1.5"/><line x1="57.40" y1="171.13" x2="61.30" y2="171.13" stroke="#000" stroke-width="1.5"/><line x1="57.40" y1="157.38" x2="61.30" y2="157.38" stroke="#000" stroke-width="1.5"/><line x1="57.40" y1="143.64" x2="64.60" y2="143.64" stroke="#000" stroke-width="1.5"/><line x1="57.40" y1="129.90" x2="61.30" y2="129.90" stroke="#000" stroke-width="1.5"/><line x1="57.40" y1="116.15" x2="61.30" y2="116.15" stroke="#000" stroke-width="1.5"/><line x1="57.40" y1="102.41" x2="61.30" y2="102.41" stroke="#000" stroke-width="1.5"/><line x1="57.40" y1="88.66" x2="61.30" y2="88.66" stroke="#000" stroke-width="1.5"/><line x1="57.40" y1="74.92" x2="64.60" y2="74.92" stroke="#000" stroke-width="1.5"/><line x1="57.40" y1="61.18" x2="61.30" y2="61.18" stroke="#000" stroke-width="1.5"/><line x1="57.40" y1="47.43" x2="61.30" y2="47.43" stroke="#000" stroke-width="1.5"/><line x1="57.40" y1="33.69" x2="61.30" y2="33.69" stroke="#000" stroke-width="1.5"/><line x1="57.40" y1="19.94" x2="61.30" y2="19.94" stroke="#000" stroke-width="1.5"/><line x1="57.40" y1="6.20" x2="64.60" y2="6.20" stroke="#000" stroke-width="1.5"/><text x="57.40" y="370.3" text-anchor="middle" class="t">0</text><text x="122.34" y="370.3" text-anchor="middle" class="t">5</text><text x="187.29" y="370.3" text-anchor="middle" class="t">10</text><text x="252.24" y="370.3" text-anchor="middle" class="t">15</text><text x="317.18" y="370.3" text-anchor="middle" class="t">20</text><text x="382.12" y="370.3" text-anchor="middle" class="t">25</text><text x="447.07" y="370.3" text-anchor="middle" class="t">30</text><text x="512.01" y="370.3" text-anchor="middle" class="t">35</text><text x="49" y="354.60" text-anchor="end" class="t">0</text><text x="49" y="285.88" text-anchor="end" class="t">5</text><text x="49" y="217.16" text-anchor="end" class="t">10</text><text x="49" y="148.44" text-anchor="end" class="t">15</text><text x="49" y="79.72" text-anchor="end" class="t">20</text><text x="49" y="11.00" text-anchor="end" class="t">25</text><text x="279" y="402.5" text-anchor="middle" class="a">Factor IXa (nM)</text><text transform="translate(16.2,179.3) rotate(-90)" text-anchor="middle" class="a" style="font-size:21.2px">Factor X Generation (nM/min)</text>
</svg>
</body></html>
